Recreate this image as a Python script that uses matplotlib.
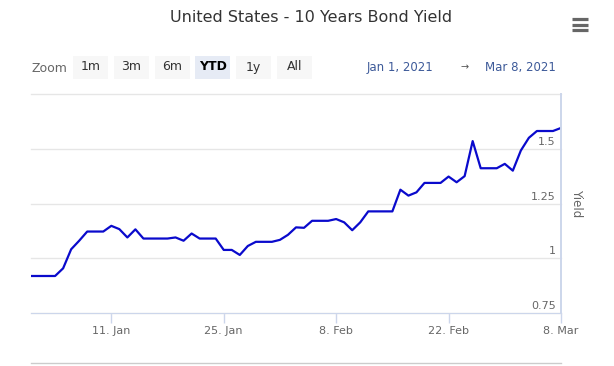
import numpy as np
import pandas as pd
import matplotlib
matplotlib.use("Agg")
from matplotlib import pyplot as plt
import matplotlib.dates as mdates
from matplotlib.ticker import FuncFormatter
from matplotlib.patches import Rectangle
from matplotlib.lines import Line2D

# =============================================================================
# data
# =============================================================================
start_date = "2021-01-01"
yields = [0.919, 0.919, 0.919, 0.919, 0.954, 1.041, 1.080, 1.122, 1.122, 1.122,
          1.148, 1.133, 1.095, 1.132, 1.090, 1.090, 1.090, 1.090, 1.095, 1.080,
          1.113, 1.090, 1.090, 1.090, 1.038, 1.038, 1.015, 1.056, 1.075, 1.075,
          1.075, 1.084, 1.107, 1.141, 1.139, 1.171, 1.171, 1.171, 1.179, 1.164,
          1.128, 1.164, 1.214, 1.214, 1.214, 1.214, 1.313, 1.286, 1.301, 1.344,
          1.344, 1.344, 1.373, 1.347, 1.375, 1.535, 1.411, 1.411, 1.411, 1.431,
          1.400, 1.492, 1.550, 1.581, 1.581, 1.581, 1.595]
dates = pd.date_range(start_date, periods=len(yields), freq="D")

x_ticks = ["2021-01-11", "2021-01-25", "2021-02-08", "2021-02-22", "2021-03-08"]
y_ticks = [0.75, 1.0, 1.25, 1.5]
y_tick_labels = ["0.75", "1", "1.25", "1.5"]
buttons = ["1m", "3m", "6m", "YTD", "1y", "All"]
selected = "YTD"

title = "United States - 10 Years Bond Yield"

# =============================================================================
# figure
# =============================================================================
W, H = 614, 366
plt.rcParams['font.family'] = ['DejaVu Sans']
fig = plt.figure(figsize=(W / 100, H / 100), dpi=100)

def fx(px):
    return px / W

def fy(py):
    return 1 - py / H

ax = fig.add_axes([fx(31), fy(313), fx(561) - fx(31), fy(94) - fy(313)])
ax.plot(dates, yields, color="#0a0acc", lw=1.6, solid_joinstyle="round")

ax.set_xlim(pd.Timestamp(start_date), pd.Timestamp("2021-03-08"))
ax.set_ylim(0.75, 1.75)

# grid
ax.set_yticks(y_ticks + [1.75])
ax.yaxis.grid(True, color="#e6e6e6", lw=1.0)
for gl in ax.get_ygridlines():
    gl.set_clip_on(False)
ax.tick_params(axis="y", length=0, labelleft=False)
ax.set_axisbelow(True)

for v, lab in zip(y_ticks, y_tick_labels):
    ax.text(0.99, v + 0.008, lab, transform=ax.get_yaxis_transform(),
            ha="right", va="bottom", fontsize=8, color="#666666")

# x axis
ax.set_xticks(pd.to_datetime(x_ticks))
ax.xaxis.set_major_formatter(FuncFormatter(
    lambda v, p: "%d. %s" % (mdates.num2date(v).day, mdates.num2date(v).strftime("%b"))))
ax.tick_params(axis="x", length=7, width=1, color="#ccd6eb", labelsize=8,
               labelcolor="#666666", pad=2)

for s in ["top", "left"]:
    ax.spines[s].set_visible(False)
ax.spines["bottom"].set_color("#ccd6eb")
ax.spines["right"].set_color("#ccd6eb")
ax.spines["right"].set_linewidth(1.4)

ax.yaxis.set_label_position("right")
ax.set_ylabel("Yield", rotation=270, fontsize=8.5, color="#666666", labelpad=16)

# =============================================================================
# header
# =============================================================================
fig.text(fx(311), fy(18), title, ha="center", va="center", fontsize=11.5, color="#333333")

# menu icon
for yy in [19, 24.5, 30]:
    fig.add_artist(Line2D([fx(572), fx(588)], [fy(yy), fy(yy)], color="#666666",
                          lw=2.3, solid_capstyle="butt"))

fig.text(fx(32), fy(69), "Zoom", ha="left", va="center", fontsize=9, color="#666666")
bx = 73
for b in buttons:
    sel = b == selected
    fig.add_artist(Rectangle((fx(bx), fy(79)), fx(35), fy(56) - fy(79),
                             transform=fig.transFigure,
                             facecolor="#e6ebf5" if sel else "#f7f7f7", edgecolor="none"))
    fig.text(fx(bx + 17.5), fy(67), b, ha="center", va="center", fontsize=9,
             color="#000000" if sel else "#333333", fontweight="bold" if sel else "normal")
    bx += 40.8

fig.text(fx(433), fy(67), "Jan 1, 2021", ha="right", va="center", fontsize=8.5, color="#3d5a99")
fig.text(fx(465), fy(67), "\u2192", ha="center", va="center", fontsize=7, color="#555555")
fig.text(fx(556), fy(67), "Mar 8, 2021", ha="right", va="center", fontsize=8.5, color="#3d5a99")

# navigator top line
fig.add_artist(Line2D([fx(31), fx(561)], [fy(363), fy(363)], color="#cccccc", lw=1))

plt.savefig("out.png", dpi=100)
